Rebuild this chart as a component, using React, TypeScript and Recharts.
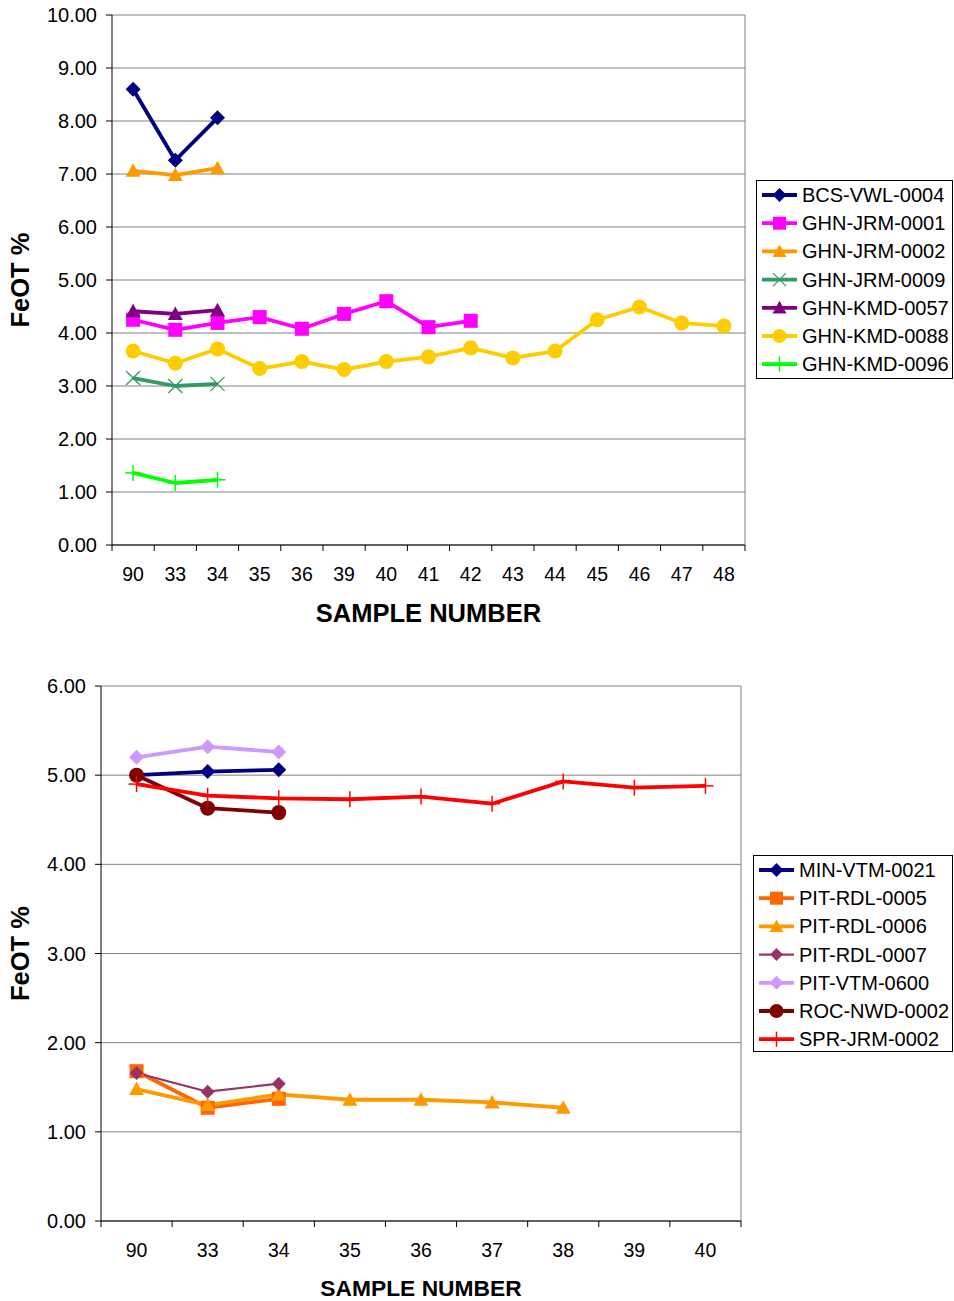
import React from 'react';
import { LineChart, Line, XAxis, YAxis, CartesianGrid, Legend, Label } from 'recharts';

const FONT = '"Liberation Sans", Arial, Helvetica, sans-serif';

// ---------- Top chart data ----------
const topCategories = ['90', '33', '34', '35', '36', '39', '40', '41', '42', '43', '44', '45', '46', '47', '48'];
const bcsVwl0004 = [8.6, 7.26, 8.06];
const ghnJrm0001 = [4.25, 4.06, 4.19, 4.3, 4.08, 4.36, 4.6, 4.11, 4.23];
const ghnJrm0002 = [7.06, 6.98, 7.11];
const ghnJrm0009 = [3.15, 3.0, 3.04];
const ghnKmd0057 = [4.41, 4.36, 4.43];
const ghnKmd0088 = [3.66, 3.43, 3.7, 3.33, 3.46, 3.31, 3.46, 3.55, 3.72, 3.53, 3.66, 4.25, 4.49, 4.19, 4.13];
const ghnKmd0096 = [1.36, 1.17, 1.23];
const topYTicks = [0, 1, 2, 3, 4, 5, 6, 7, 8, 9, 10];

// ---------- Bottom chart data ----------
const bottomCategories = ['90', '33', '34', '35', '36', '37', '38', '39', '40'];
const minVtm0021 = [5.0, 5.04, 5.06];
const pitRdl0005 = [1.68, 1.27, 1.37];
const pitRdl0006 = [1.48, 1.3, 1.42, 1.36, 1.36, 1.33, 1.27];
const pitRdl0007 = [1.66, 1.45, 1.54];
const pitVtm0600 = [5.2, 5.32, 5.26];
const rocNwd0002 = [5.0, 4.63, 4.58];
const sprJrm0002 = [4.9, 4.77, 4.74, 4.73, 4.76, 4.68, 4.93, 4.86, 4.88];
const bottomYTicks = [0, 1, 2, 3, 4, 5, 6];

type Shape = 'diamond' | 'square' | 'triangle' | 'x' | 'plus' | 'circle';
interface SeriesDef {
  name: string;
  values: number[];
  color: string;
  shape: Shape;
  strokeWidth: number;
  size: number;
}

const topSeries: SeriesDef[] = [
  { name: 'BCS-VWL-0004', values: bcsVwl0004, color: '#000080', shape: 'diamond', strokeWidth: 3.8, size: 15 },
  { name: 'GHN-JRM-0001', values: ghnJrm0001, color: '#FF00FF', shape: 'square', strokeWidth: 3.8, size: 14 },
  { name: 'GHN-JRM-0002', values: ghnJrm0002, color: '#FF9900', shape: 'triangle', strokeWidth: 3.8, size: 15 },
  { name: 'GHN-JRM-0009', values: ghnJrm0009, color: '#339966', shape: 'x', strokeWidth: 3.8, size: 14 },
  { name: 'GHN-KMD-0057', values: ghnKmd0057, color: '#800080', shape: 'triangle', strokeWidth: 3.8, size: 15 },
  { name: 'GHN-KMD-0088', values: ghnKmd0088, color: '#FFCC00', shape: 'circle', strokeWidth: 3.8, size: 15 },
  { name: 'GHN-KMD-0096', values: ghnKmd0096, color: '#00FF00', shape: 'plus', strokeWidth: 3.8, size: 16 },
];

const bottomSeries: SeriesDef[] = [
  { name: 'MIN-VTM-0021', values: minVtm0021, color: '#000080', shape: 'diamond', strokeWidth: 3.8, size: 15 },
  { name: 'PIT-RDL-0005', values: pitRdl0005, color: '#FF6600', shape: 'square', strokeWidth: 3.8, size: 14 },
  { name: 'PIT-RDL-0006', values: pitRdl0006, color: '#FF9900', shape: 'triangle', strokeWidth: 3.8, size: 15 },
  { name: 'PIT-RDL-0007', values: pitRdl0007, color: '#993366', shape: 'diamond', strokeWidth: 2.2, size: 14 },
  { name: 'PIT-VTM-0600', values: pitVtm0600, color: '#CC99FF', shape: 'diamond', strokeWidth: 3.8, size: 15 },
  { name: 'ROC-NWD-0002', values: rocNwd0002, color: '#800000', shape: 'circle', strokeWidth: 3.8, size: 15 },
  { name: 'SPR-JRM-0002', values: sprJrm0002, color: '#FF0000', shape: 'plus', strokeWidth: 3.8, size: 16 },
];

function Marker({ shape, cx, cy, color, size }: { shape: Shape; cx: number; cy: number; color: string; size: number }) {
  const s = size / 2;
  switch (shape) {
    case 'diamond':
      return <polygon points={`${cx},${cy - s} ${cx + s},${cy} ${cx},${cy + s} ${cx - s},${cy}`} fill={color} />;
    case 'square':
      return <rect x={cx - s} y={cy - s} width={size} height={size} fill={color} />;
    case 'triangle':
      return <polygon points={`${cx},${cy - s} ${cx + s},${cy + s * 0.8} ${cx - s},${cy + s * 0.8}`} fill={color} />;
    case 'circle':
      return <circle cx={cx} cy={cy} r={s} fill={color} />;
    case 'x':
      return (
        <g stroke={color} strokeWidth={1.3}>
          <line x1={cx - s} y1={cy - s} x2={cx + s} y2={cy + s} />
          <line x1={cx - s} y1={cy + s} x2={cx + s} y2={cy - s} />
        </g>
      );
    case 'plus':
    default:
      return (
        <g stroke={color} strokeWidth={1.5}>
          <line x1={cx - s} y1={cy} x2={cx + s} y2={cy} />
          <line x1={cx} y1={cy - s} x2={cx} y2={cy + s} />
        </g>
      );
  }
}

function buildRows(categories: string[], series: SeriesDef[]) {
  return categories.map((c, i) => {
    const row: Record<string, any> = { sample: c };
    series.forEach((s) => {
      row[s.name] = i < s.values.length ? s.values[i] : null;
    });
    return row;
  });
}

function LegendBox({ series, width, height }: { series: SeriesDef[]; width: number; height: number }) {
  return (
    <svg width={width} height={height} style={{ display: 'block' }}>
      <rect x={0.5} y={0.5} width={width - 1} height={height - 1} fill="#fff" stroke="#000" strokeWidth={1} />
      {series.map((s, i) => {
        const y = 15 + i * 28.2;
        return (
          <g key={s.name}>
            <line x1={6} x2={41} y1={y} y2={y} stroke={s.color} strokeWidth={s.strokeWidth} />
            <Marker shape={s.shape} cx={23.5} cy={y} color={s.color} size={s.size - 1} />
            <text x={46} y={y} dominantBaseline="central" fontSize={20} fontFamily={FONT} fill="#000">
              {s.name}
            </text>
          </g>
        );
      })}
    </svg>
  );
}

const TICK_GAP = 22;
const TICK_LEN = 6;

function makeCategoryTick(count: number) {
  return (tp: any) => {
    const { x, y, payload, index } = tp;
    const half = payload && typeof payload.offset === 'number' ? payload.offset : 0;
    const axisY = y - TICK_GAP;
    const leftX = x - half;
    const rightX = x + half;
    return (
      <g>
        <line x1={leftX} x2={leftX} y1={axisY} y2={axisY + TICK_LEN} stroke="#000" strokeWidth={1} />
        {index === count - 1 && (
          <line x1={rightX} x2={rightX} y1={axisY} y2={axisY + TICK_LEN} stroke="#000" strokeWidth={1} />
        )}
        <text x={x} y={y} dy="0.71em" textAnchor="middle" fontSize={19.5} fontFamily={FONT} fill="#000">
          {payload.value}
        </text>
      </g>
    );
  };
}

interface ChartProps {
  top: number;
  height: number;
  categories: string[];
  series: SeriesDef[];
  yTicks: number[];
  marginTop: number;
  marginRight: number;
  marginBottom: number;
  yAxisWidth: number;
  legendLeft: number;
  legendTop: number;
  legendWidth: number;
  legendHeight: number;
  titleOffset: number;
  titleSize: number;
}

function FeChart(p: ChartProps) {
  const rows = buildRows(p.categories, p.series);
  const n = p.categories.length;
  const yMax = p.yTicks[p.yTicks.length - 1];
  const tickStyle = { fill: '#000', fontSize: 20, fontFamily: FONT };
  return (
    <div style={{ position: 'absolute', left: 0, top: p.top }}>
      <LineChart
        width={954}
        height={p.height}
        data={rows}
        margin={{ top: p.marginTop, right: p.marginRight, bottom: p.marginBottom, left: 0 }}
      >
        <CartesianGrid vertical={false} stroke="#808080" strokeWidth={1} />
        <XAxis
          dataKey="sample"
          type="category"
          scale="band"
          tickLine={false}
          axisLine={{ stroke: '#000', strokeWidth: 1 }}
          tickSize={0}
          tickMargin={TICK_GAP}
          tick={makeCategoryTick(n)}
          height={80}
          interval={0}
        >
          <Label
            value="SAMPLE NUMBER"
            position="insideBottom"
            offset={p.titleOffset}
            style={{ fontSize: p.titleSize, fontWeight: 'bold', fontFamily: FONT, fill: '#000' }}
          />
        </XAxis>
        <YAxis
          type="number"
          domain={[0, yMax]}
          ticks={p.yTicks}
          interval={0}
          tickFormatter={(v: number) => v.toFixed(2)}
          width={p.yAxisWidth}
          axisLine={{ stroke: '#000', strokeWidth: 1 }}
          tickLine={{ stroke: '#000' }}
          tickSize={6}
          tickMargin={9}
          tick={tickStyle}
        >
          <Label
            content={(lp: any) => {
              const vb = lp.viewBox || { x: 0, y: 0, width: 0, height: 0 };
              const cx = vb.x + 20;
              const cy = vb.y + vb.height / 2;
              return (
                <text
                  x={cx}
                  y={cy}
                  transform={`rotate(-90 ${cx} ${cy})`}
                  textAnchor="middle"
                  dominantBaseline="central"
                  fontSize={25.5}
                  fontWeight="bold"
                  fontFamily={FONT}
                  fill="#000"
                >
                  FeOT %
                </text>
              );
            }}
          />
        </YAxis>
        <YAxis
          yAxisId="frame"
          orientation="right"
          type="number"
          domain={[0, yMax]}
          width={1}
          tick={false}
          tickLine={false}
          axisLine={{ stroke: '#808080', strokeWidth: 1 }}
        />
        {p.series.map((s) => (
          <Line
            key={s.name}
            dataKey={s.name}
            name={s.name}
            type="linear"
            stroke={s.color}
            strokeWidth={s.strokeWidth}
            strokeLinejoin="round"
            isAnimationActive={false}
            activeDot={false}
            connectNulls={false}
            dot={(dp: any) => {
              const k = `${s.name}-${dp.index}`;
              if (dp.cx == null || dp.cy == null || dp.value == null) return <g key={k} />;
              return (
                <g key={k}>
                  <Marker shape={s.shape} cx={dp.cx} cy={dp.cy} color={s.color} size={s.size} />
                </g>
              );
            }}
          />
        ))}
        <Legend
          layout="vertical"
          align="center"
          verticalAlign="middle"
          wrapperStyle={{ left: p.legendLeft, top: p.legendTop, width: p.legendWidth, height: p.legendHeight }}
          content={() => <LegendBox series={p.series} width={p.legendWidth} height={p.legendHeight} />}
        />
      </LineChart>
    </div>
  );
}

export default function App() {
  return (
    <div style={{ position: 'absolute', left: 0, top: 0, width: 954, height: 1301, background: '#fff' }}>
      <FeChart
        top={0}
        height={640}
        categories={topCategories}
        series={topSeries}
        yTicks={topYTicks}
        marginTop={15}
        marginRight={208}
        marginBottom={15}
        yAxisWidth={112}
        legendLeft={756}
        legendTop={180}
        legendWidth={197}
        legendHeight={199}
        titleOffset={3}
        titleSize={25.5}
      />
      <FeChart
        top={640}
        height={661}
        categories={bottomCategories}
        series={bottomSeries}
        yTicks={bottomYTicks}
        marginTop={46}
        marginRight={212}
        marginBottom={0}
        yAxisWidth={101}
        legendLeft={753}
        legendTop={215}
        legendWidth={200}
        legendHeight={197}
        titleOffset={5}
        titleSize={22.8}
      />
    </div>
  );
}
